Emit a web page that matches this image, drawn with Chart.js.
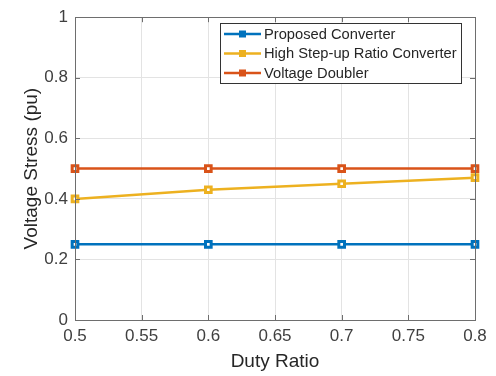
<!DOCTYPE html>
<html>
<head>
  <script src="https://cdn.jsdelivr.net/npm/chart.js@4.4.0/dist/chart.umd.min.js"></script>
  <style>
    body { margin: 0; background: #fff; }
    #wrap { width: 496px; height: 376px; }
  </style>
</head>
<body>
  <div id="wrap"><canvas id="graph" width="496" height="376"></canvas></div>

  <script>
    // data
    var dutyRatio = [0.5, 0.6, 0.7, 0.8];
    var proposed = [0.25, 0.25, 0.25, 0.25];
    var highStepUp = [0.40, 0.43, 0.45, 0.47];
    var doubler = [0.50, 0.50, 0.50, 0.50];
    var seriesNames = ['Proposed Converter', 'High Step-up Ratio Converter', 'Voltage Doubler'];
    var seriesColors = ['#0072BD', '#EDB120', '#D95319'];

    var font = "'Liberation Sans', Arial, sans-serif";

    function toPoints(ys) {
      return dutyRatio.map(function (x, i) { return { x: x, y: ys[i] }; });
    }

    function shortNum(v) {
      return String(Number(v.toFixed(2)));
    }

    function makeSet(name, ys, col) {
      return {
        label: name,
        data: toPoints(ys),
        borderColor: col,
        backgroundColor: '#fff',
        borderWidth: 2.5,
        pointStyle: 'rect',
        pointRadius: 4,
        pointBorderWidth: 3,
        pointBorderColor: col,
        pointBackgroundColor: '#fff',
        tension: 0,
        clip: false
      };
    }

    // axis box + inward tick marks, like matlab
    var axisBox = {
      id: 'axisBox',
      afterDatasetsDraw: function (chart) {
        var ctx = chart.ctx, a = chart.chartArea;
        var xs = chart.scales.x, ys = chart.scales.y;
        ctx.save();
        ctx.strokeStyle = '#6e6e6e';
        ctx.lineWidth = 1;
        ctx.beginPath();
        xs.ticks.forEach(function (t) {
          var px = Math.round(xs.getPixelForValue(t.value)) + 0.5;
          ctx.moveTo(px, a.bottom); ctx.lineTo(px, a.bottom - 5);
          ctx.moveTo(px, a.top); ctx.lineTo(px, a.top + 5);
        });
        ys.ticks.forEach(function (t) {
          var py = Math.round(ys.getPixelForValue(t.value)) + 0.5;
          ctx.moveTo(a.left, py); ctx.lineTo(a.left + 5, py);
          ctx.moveTo(a.right, py); ctx.lineTo(a.right - 5, py);
        });
        ctx.stroke();
        ctx.strokeRect(Math.round(a.left) + 0.5, Math.round(a.top) + 0.5,
          Math.round(a.right - a.left), Math.round(a.bottom - a.top));
        ctx.restore();
      }
    };

    // legend sits inside the axes at the top right
    var legendBox = {
      id: 'legendBox',
      afterDraw: function (chart) {
        var ctx = chart.ctx;
        var bx = 220, by = 23, bw = 241, bh = 60;
        ctx.save();
        ctx.fillStyle = '#fff';
        ctx.fillRect(bx, by, bw, bh);
        ctx.strokeStyle = '#333';
        ctx.lineWidth = 1;
        ctx.strokeRect(bx + 0.5, by + 0.5, bw, bh);
        chart.data.datasets.forEach(function (ds, i) {
          var y = by + 11 + i * 19.5;
          ctx.strokeStyle = ds.borderColor;
          ctx.lineWidth = 2.5;
          ctx.beginPath();
          ctx.moveTo(bx + 4, y); ctx.lineTo(bx + 41, y);
          ctx.stroke();
          ctx.fillStyle = ds.borderColor;
          ctx.fillRect(bx + 19, y - 3.5, 7, 7);
          ctx.fillStyle = '#262626';
          ctx.font = '14.7px ' + font;
          ctx.textBaseline = 'middle';
          ctx.fillText(ds.label, bx + 44, y + 0.5);
        });
        ctx.restore();
      }
    };

    var ctx = document.getElementById('graph');
    var chart = new Chart(ctx, {
      type: 'line',
      data: {
        datasets: [
          makeSet(seriesNames[0], proposed, seriesColors[0]),
          makeSet(seriesNames[1], highStepUp, seriesColors[1]),
          makeSet(seriesNames[2], doubler, seriesColors[2])
        ]
      },
      options: {
        responsive: false,
        animation: false,
        layout: { padding: { left: 0, right: 21, top: 15, bottom: 0 } },
        plugins: {
          legend: { display: false },
          tooltip: { enabled: false }
        },
        scales: {
          x: {
            type: 'linear',
            min: 0.5,
            max: 0.8,
            afterFit: function (s) { s.height = 56; },
            ticks: {
              stepSize: 0.05,
              padding: 6,
              color: '#404040',
              font: { family: font, size: 17 },
              maxRotation: 0,
              callback: shortNum
            },
            grid: { color: '#e3e3e3', drawTicks: false },
            border: { display: false },
            title: {
              display: true,
              text: 'Duty Ratio',
              color: '#262626',
              font: { family: font, size: 19 },
              padding: { top: 0, bottom: 3 }
            }
          },
          y: {
            min: 0,
            max: 1,
            afterFit: function (s) { s.width = 75; },
            ticks: {
              stepSize: 0.2,
              padding: 7,
              color: '#404040',
              font: { family: font, size: 17 },
              callback: shortNum
            },
            grid: { color: '#e3e3e3', drawTicks: false },
            border: { display: false },
            title: {
              display: true,
              text: 'Voltage Stress (pu)',
              color: '#262626',
              font: { family: font, size: 19 },
              padding: { top: 20, bottom: 0 }
            }
          }
        }
      },
      plugins: [axisBox, legendBox]
    });
  </script>
</body>
</html>
